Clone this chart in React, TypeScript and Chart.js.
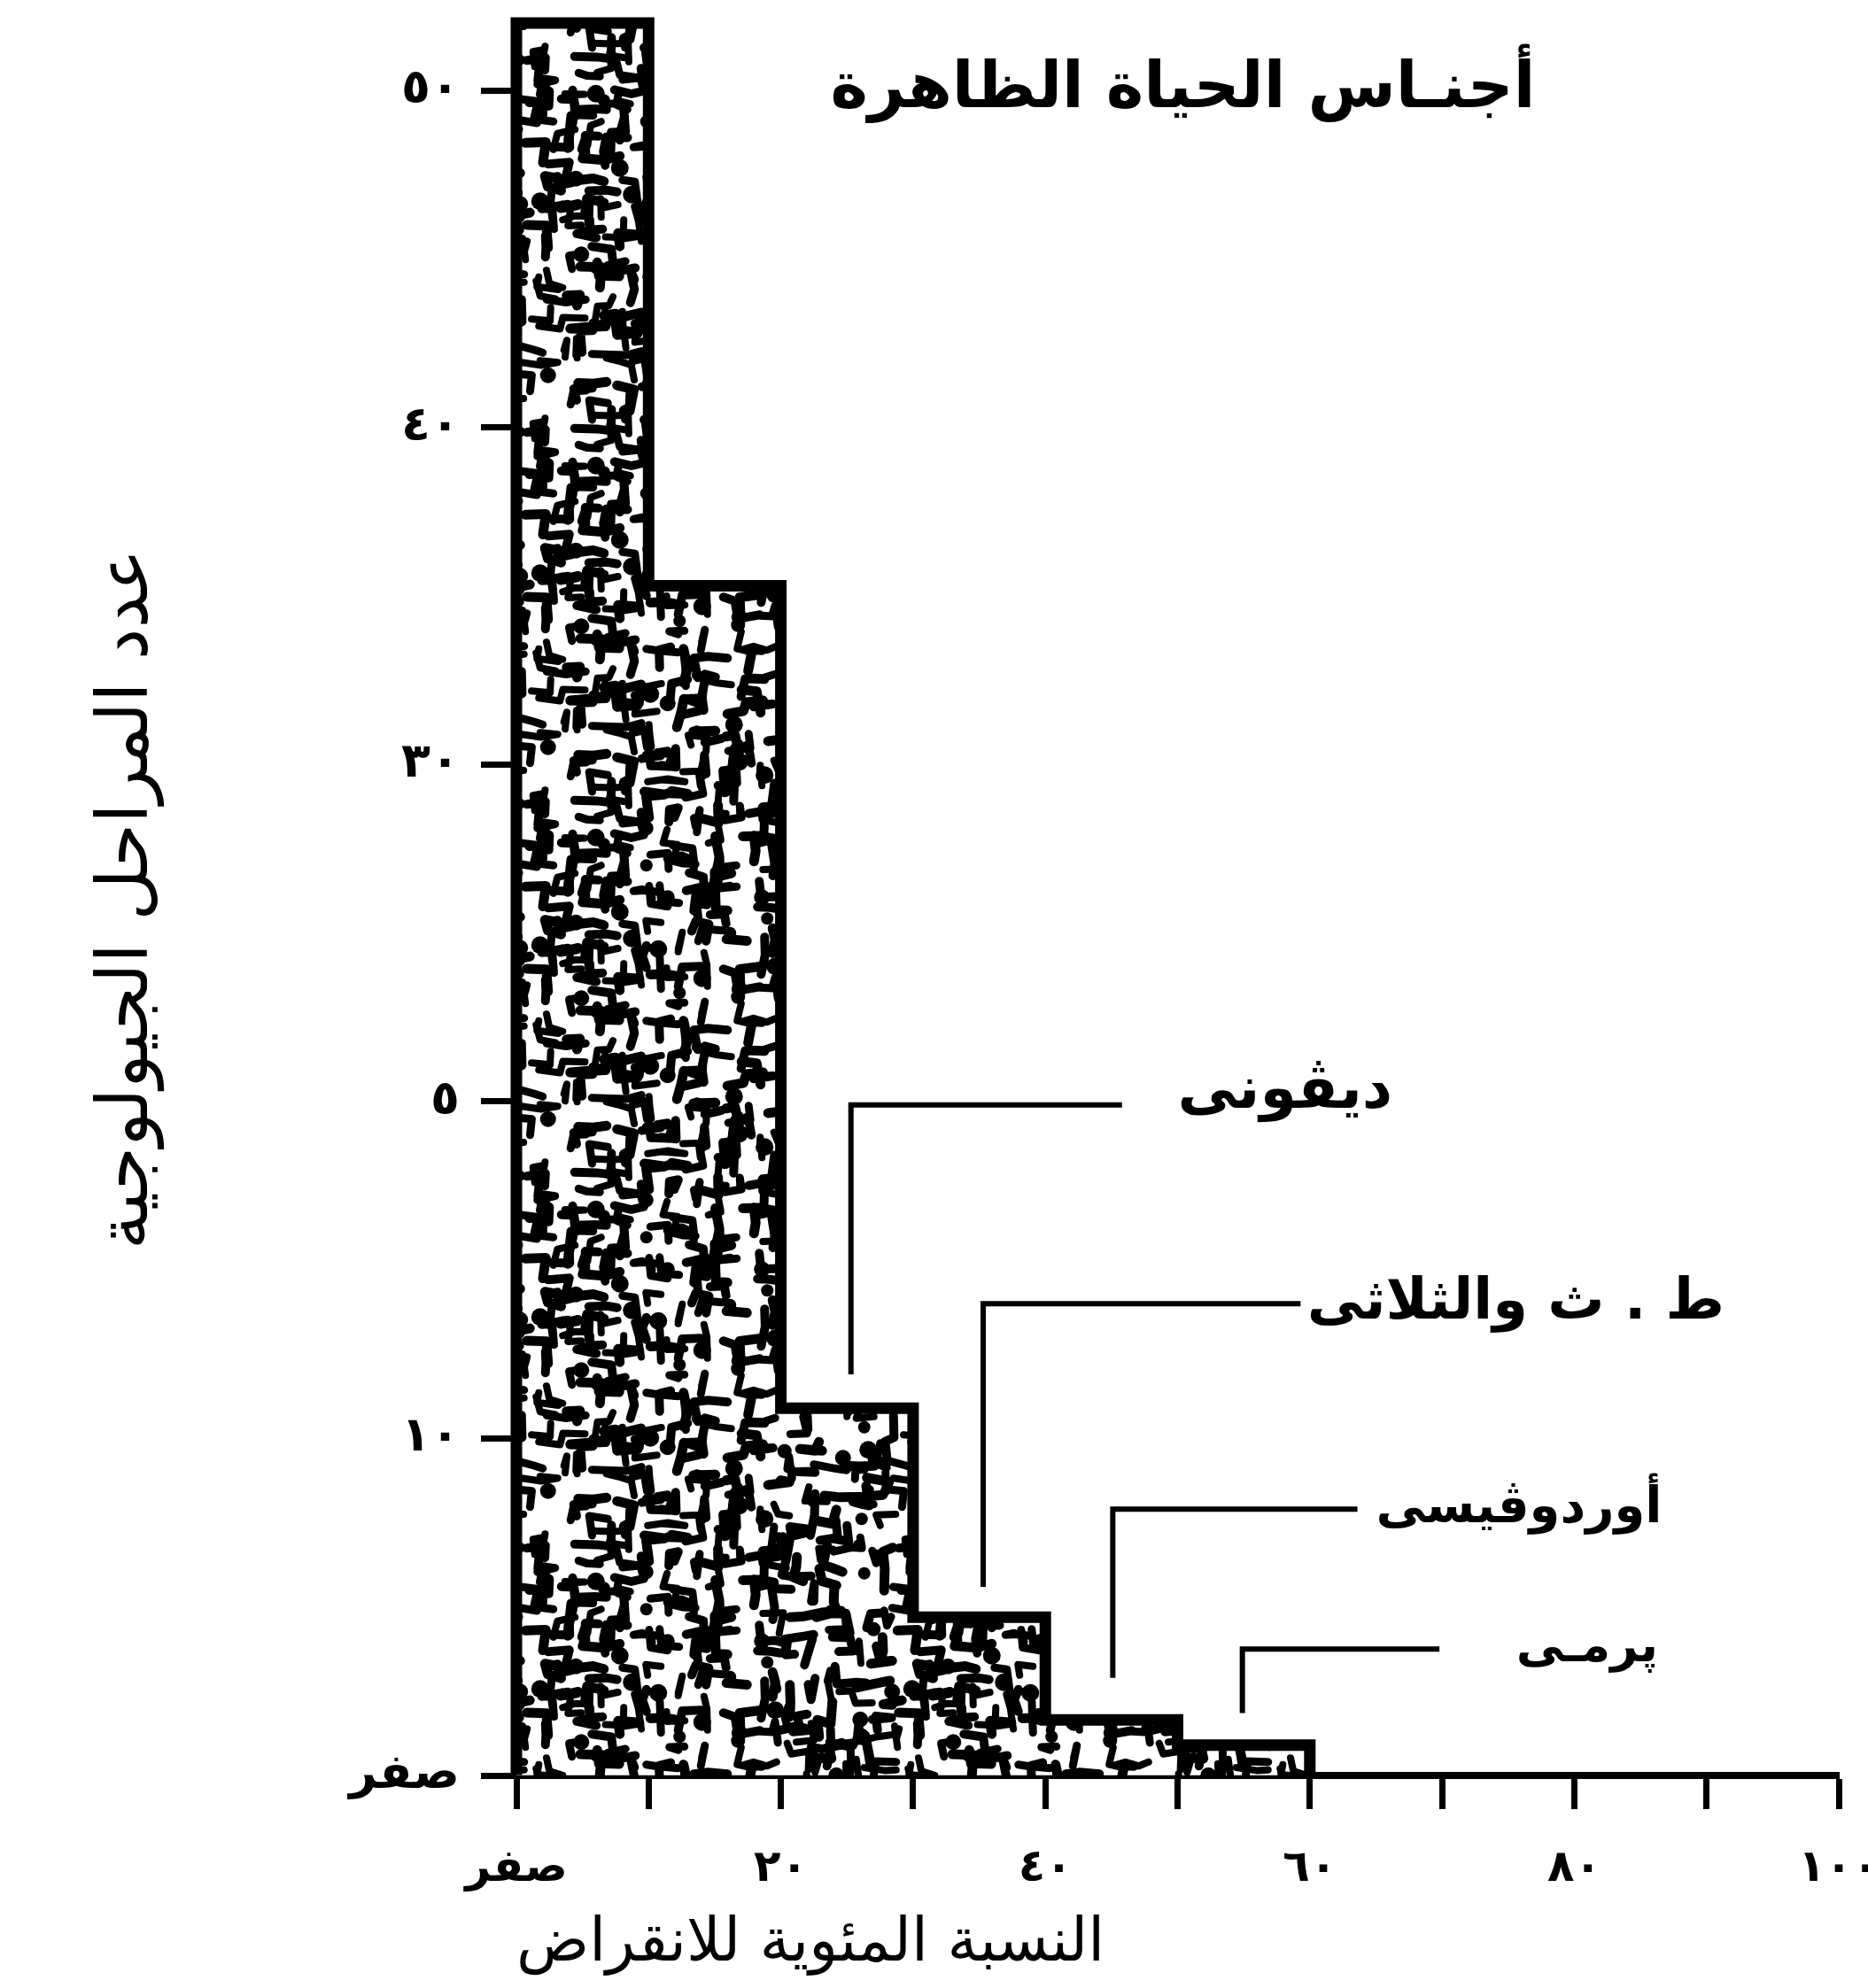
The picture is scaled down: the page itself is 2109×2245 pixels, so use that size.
import React, { useEffect, useRef } from "react";
import { Chart, registerables } from "chart.js";

Chart.register(...registerables);

// ---- data ----
const binCenters = [5, 15, 25, 35, 45, 55]; // % extinction bins (0-10, 10-20, ...)
const stageCounts = [52, 35.3, 10.9, 4.7, 1.65, 0.9]; // number of geological stages

const xTickValues = [0, 10, 20, 30, 40, 50, 60, 70, 80, 90, 100];
const xTickLabels = ["صفر", "", "٢٠", "", "٤٠", "", "٦٠", "", "٨٠", "", "١٠٠"];
const yTickValues = [0, 10, 20, 30, 40, 50];
const yTickLabels = ["صفر", "١٠", "٥", "٣٠", "٤٠", "٥٠"];

const chartTitle = "أجنـاس الحياة الظاهرة";
const xTitle = "النسبة المئوية للانقراض";
const yTitle = "عدد المراحل الجيولوجية";

// labelled periods with leader lines (data coordinates)
const periodNames = ["ديڤونى", "ط . ث والثلاثى", "أوردوڤيسى", "پرمـى"];
const leaderX = [25.3, 35.3, 45.1, 54.9];
const leaderFrom = [11.9, 5.6, 2.9, 1.85];
const leaderY = [19.9, 14.0, 7.9, 3.75];
const leaderTo = [45.8, 59.3, 63.6, 69.8];
const nameX = [50.0, 59.8, 65.0, 75.6];

// styles for the period labels
const nameDy = [-14, 0, 0, 0];
const nameFontSize = [67, 64, 56, 54];

const FONT = "'DejaVu Sans', sans-serif";

function hash(i: number, j: number, k: number): number {
  let h = (Math.imul(i, 374761393) + Math.imul(j, 668265263) + Math.imul(k, 2246822519)) | 0;
  h = Math.imul(h ^ (h >>> 13), 1274126177);
  h = Math.imul(h ^ (h >>> 15), 2654435761);
  return (h ^ (h >>> 16)) >>> 0;
}

// decorative stipple texture (seamless tile, deterministic)
function makeTexture(): HTMLCanvasElement {
  const cell = 30;
  const n = 14;
  const size = cell * n;
  const c = document.createElement("canvas");
  c.width = c.height = size;
  const g = c.getContext("2d")!;
  g.fillStyle = "#fff";
  g.fillRect(0, 0, size, size);
  g.strokeStyle = "#000";
  g.fillStyle = "#000";
  g.lineCap = "round";
  g.lineJoin = "round";
  const shapes: { pts: number[][]; w: number; blob: boolean }[] = [];
  for (let i = 0; i < n; i++) {
    for (let j = 0; j < n; j++) {
      const reps = 1 + (hash(i, j, 99) % 2 === 0 ? 1 : 0);
      for (let r = 0; r < reps; r++) {
        const h = hash(i, j, r);
        const cx = i * cell + cell / 2 + ((h & 15) - 7.5) * 1.5;
        const cy = j * cell + cell / 2 + (((h >>> 4) & 15) - 7.5) * 1.5;
        const w = 8 + ((h >>> 8) & 3);
        if (((h >>> 10) & 7) === 0) {
          shapes.push({ pts: [[cx, cy]], w: 7 + ((h >>> 13) & 3), blob: true });
          continue;
        }
        const nseg = 2 + ((h >>> 13) & 1);
        const pts: number[][] = [[cx, cy]];
        let x = cx, y = cy;
        for (let k = 0; k < nseg; k++) {
          const hk = hash(i, j, 10 + r * 10 + k);
          const len = 10 + (hk % 16);
          const dir = (hk >>> 5) & 3;
          const skew = (((hk >>> 8) & 7) - 3.5) * 1.3;
          if (dir === 0) { x += len; y += skew; }
          else if (dir === 1) { x -= len; y += skew; }
          else if (dir === 2) { y += len; x += skew; }
          else { y -= len; x += skew; }
          pts.push([x, y]);
        }
        shapes.push({ pts, w, blob: false });
      }
    }
  }
  for (let ox = -1; ox <= 1; ox++) {
    for (let oy = -1; oy <= 1; oy++) {
      shapes.forEach((s) => {
        g.beginPath();
        if (s.blob) {
          g.arc(s.pts[0][0] + ox * size, s.pts[0][1] + oy * size, s.w, 0, Math.PI * 2);
          g.fill();
        } else {
          g.lineWidth = s.w;
          s.pts.forEach((p, k) => {
            const px = p[0] + ox * size, py = p[1] + oy * size;
            if (k === 0) g.moveTo(px, py); else g.lineTo(px, py);
          });
          g.stroke();
        }
      });
    }
  }
  return c;
}

const outlinePlugin = {
  id: "histOutline",
  afterDatasetsDraw(chart: any) {
    const bars = chart.getDatasetMeta(0).data as any[];
    if (!bars.length) return;
    const ctx: CanvasRenderingContext2D = chart.ctx;
    ctx.save();
    ctx.strokeStyle = "#000";
    ctx.lineWidth = 13;
    ctx.lineJoin = "miter";
    ctx.beginPath();
    const first = bars[0];
    ctx.moveTo(first.x - first.width / 2, first.base);
    bars.forEach((b: any) => {
      ctx.lineTo(b.x - b.width / 2, b.y);
      ctx.lineTo(b.x + b.width / 2, b.y);
    });
    const last = bars[bars.length - 1];
    ctx.lineTo(last.x + last.width / 2, last.base);
    ctx.stroke();
    ctx.restore();
  },
};

const annotationPlugin = {
  id: "periodNotes",
  afterDraw(chart: any) {
    const ctx: CanvasRenderingContext2D = chart.ctx;
    const xs = chart.scales.x;
    const ys = chart.scales.y;
    ctx.save();
    ctx.strokeStyle = "#000";
    ctx.fillStyle = "#000";
    ctx.lineWidth = 6;
    ctx.lineCap = "butt";
    (ctx as any).direction = "rtl";
    periodNames.forEach((name, i) => {
      ctx.beginPath();
      ctx.moveTo(xs.getPixelForValue(leaderX[i]), ys.getPixelForValue(leaderFrom[i]));
      ctx.lineTo(xs.getPixelForValue(leaderX[i]), ys.getPixelForValue(leaderY[i]));
      ctx.lineTo(xs.getPixelForValue(leaderTo[i]), ys.getPixelForValue(leaderY[i]));
      ctx.stroke();
      ctx.font = `bold ${nameFontSize[i]}px ${FONT}`;
      ctx.textAlign = "left";
      ctx.textBaseline = "middle";
      ctx.fillText(name, xs.getPixelForValue(nameX[i]), ys.getPixelForValue(leaderY[i]) + nameDy[i]);
    });
    // chart title inside the plot
    ctx.font = `bold 72px ${FONT}`;
    ctx.textAlign = "center";
    ctx.textBaseline = "middle";
    ctx.fillText(chartTitle, xs.getPixelForValue(50.4), ys.getPixelForValue(50.0));
    ctx.restore();
  },
};

export default function App() {
  const ref = useRef<HTMLCanvasElement | null>(null);
  useEffect(() => {
    document.body.style.margin = "0";
    document.body.style.overflow = "hidden";
    const canvas = ref.current!;
    const pctx = document.createElement("canvas").getContext("2d")!;
    const pattern = pctx.createPattern(makeTexture(), "repeat")!;
    const chart = new Chart(canvas, {
      type: "bar",
      data: {
        datasets: [
          {
            data: binCenters.map((x, i) => ({ x, y: stageCounts[i] })),
            backgroundColor: pattern as any,
            borderWidth: 0,
            barPercentage: 1,
            categoryPercentage: 1,
          },
        ],
      },
      options: {
        responsive: false,
        animation: false,
        devicePixelRatio: 1,
        layout: { padding: { left: 0, right: 33, top: 26, bottom: 0 } },
        plugins: { legend: { display: false }, tooltip: { enabled: false } },
        scales: {
          x: {
            type: "linear",
            min: 0,
            max: 100,
            offset: false,
            afterBuildTicks: (s: any) => {
              s.ticks = xTickValues.map((v) => ({ value: v }));
            },
            afterFit: (s: any) => {
              s.height = 240;
              s.paddingLeft = 0;
              s.paddingRight = 0;
            },
            grid: {
              offset: false,
              drawOnChartArea: false,
              drawTicks: true,
              tickLength: 38,
              tickWidth: 7,
              tickColor: "#000",
            },
            border: { display: true, color: "#000", width: 8 },
            ticks: {
              autoSkip: false,
              maxRotation: 0,
              padding: 38,
              color: "#000",
              font: { family: FONT, size: 50, weight: "bold" },
              callback: (v: any) => {
                const k = xTickValues.indexOf(Number(v));
                return k >= 0 ? xTickLabels[k] : "";
              },
            },
            title: {
              display: true,
              text: xTitle,
              align: "start",
              color: "#000",
              font: { family: FONT, size: 68, weight: "normal" },
              padding: { top: 0, bottom: 8 },
            },
          },
          y: {
            min: 0,
            max: 52,
            afterBuildTicks: (s: any) => {
              s.ticks = yTickValues.map((v) => ({ value: v }));
            },
            afterFit: (s: any) => {
              s.width = 583;
              s.paddingTop = 0;
              s.paddingBottom = 0;
            },
            grid: {
              drawOnChartArea: false,
              drawTicks: true,
              tickLength: 40,
              tickWidth: 7,
              tickColor: "#000",
            },
            border: { display: true, color: "#000", width: 7 },
            ticks: {
              autoSkip: false,
              padding: 24,
              color: "#000",
              font: { family: FONT, size: 54, weight: "bold" },
              callback: (v: any) => {
                const k = yTickValues.indexOf(Number(v));
                return k >= 0 ? yTickLabels[k] : "";
              },
            },
            title: {
              display: true,
              text: yTitle,
              color: "#000",
              font: { family: FONT, size: 80, weight: "normal" },
              padding: { top: 97, bottom: 0 },
            },
          },
        },
      },
      plugins: [outlinePlugin, annotationPlugin],
    } as any);
    return () => chart.destroy();
  }, []);
  return (
    <canvas
      ref={ref}
      width={2109}
      height={2245}
      style={{ display: "block", width: 2109, height: 2245 }}
    />
  );
}
